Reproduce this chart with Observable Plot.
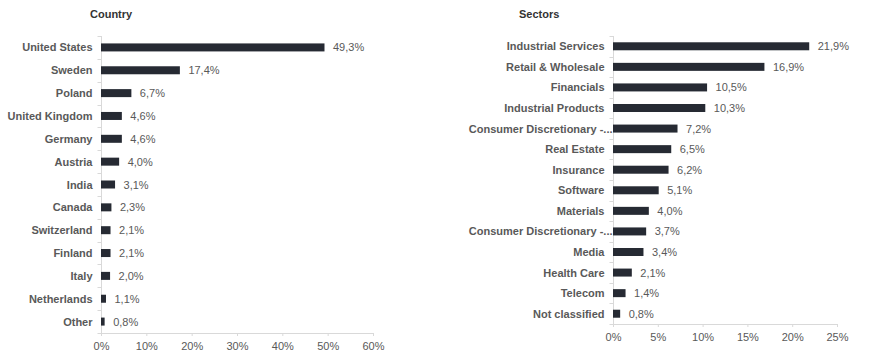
<!DOCTYPE html>
<html>
<head>
<meta charset="utf-8">
<script src="https://cdn.jsdelivr.net/npm/d3@7"></script>
<script src="https://cdn.jsdelivr.net/npm/@observablehq/plot@0.6"></script>
<style>
  html, body { margin: 0; padding: 0; background: #fff; }
  #wrap { position: relative; width: 872px; height: 353px; overflow: hidden; font-family: "Liberation Sans", Arial, sans-serif; }
  .panel { position: absolute; top: 0; }
  .title { position: absolute; font-size: 11px; font-weight: bold; color: #333; line-height: 14px; }
</style>
</head>
<body>
<div id="wrap">
  <div class="title" style="left:90px; top:7px;">Country</div>
  <div class="title" style="left:519px; top:7px;">Sectors</div>
  <div class="panel" id="left" style="left:0px;"></div>
  <div class="panel" id="right" style="left:440px;"></div>
</div>
<script>
const countries = ["United States","Sweden","Poland","United Kingdom","Germany","Austria","India","Canada","Switzerland","Finland","Italy","Netherlands","Other"];
const countryValues = [49.3,17.4,6.7,4.6,4.6,4.0,3.1,2.3,2.1,2.1,2.0,1.1,0.8];
const countryTicks = [0,10,20,30,40,50,60];

const sectors = ["Industrial Services","Retail & Wholesale","Financials","Industrial Products","Consumer Discretionary -...","Real Estate","Insurance","Software","Materials","Consumer Discretionary -...","Media","Health Care","Telecom","Not classified"];
const sectorValues = [21.9,16.9,10.5,10.3,7.2,6.5,6.2,5.1,4.0,3.7,3.4,2.1,1.4,0.8];
const sectorTicks = [0,5,10,15,20,25];

function chart({labels, values, ticks, width, height, marginLeft, marginRight, marginTop, marginBottom, barHeight}) {
  const n = labels.length;
  const data = labels.map((l, i) => ({i, label: l, value: values[i]}));
  const step = (height - marginTop - marginBottom) / n;
  const inset = (step - barHeight) / 2;
  const idx = d3.range(n);
  const full = idx.filter(i => !labels[i].endsWith("..."));
  const cut = idx.filter(i => labels[i].endsWith("..."));
  const frameLines = (index, scales, vals, dims) => {
    const g = d3.create("svg:g").attr("stroke", "#d9d9d9").attr("fill", "none").attr("stroke-width", 1);
    const x0 = Math.round(scales.x(0)) + 0.5;
    const top = dims.marginTop;
    const bottom = dims.height - dims.marginBottom;
    const right = dims.width - dims.marginRight;
    const st = (scales.y(1) - scales.y(0));
    g.append("line").attr("x1", x0).attr("x2", x0).attr("y1", top).attr("y2", bottom + 0.5);
    g.append("line").attr("x1", x0).attr("x2", right).attr("y1", Math.round(bottom) + 0.5).attr("y2", Math.round(bottom) + 0.5);
    for (let k = 0; k <= n; k++) {
      const y = Math.round(scales.y(0) + k * st) + 0.5;
      g.append("line").attr("x1", x0 - 4).attr("x2", x0).attr("y1", y).attr("y2", y);
    }
    return g.node();
  };
  const marks = [
    frameLines,
    Plot.barX(data, {x: "value", y: "i", fill: "#262a33", insetTop: inset, insetBottom: inset}),
    Plot.text(data, {x: "value", y: "i", text: d => d.value.toFixed(1).replace(".", ",") + "%", textAnchor: "start", dx: 8, fill: "#595959", fontSize: 11}),
    Plot.axisY({ticks: full, tickSize: 0, tickPadding: 9, tickFormat: i => labels[i], fontWeight: "bold", fill: "#595959", label: null}),
    Plot.axisX({ticks, tickFormat: d => d + "%", tickSize: 3, tickPadding: 6, stroke: "#d9d9d9", fill: "#595959", label: null})
  ];
  if (cut.length) marks.push(Plot.axisY({ticks: cut, tickSize: 0, tickPadding: 1, tickFormat: i => labels[i], fontWeight: "bold", fill: "#595959", label: null}));
  return Plot.plot({
    width, height, marginLeft, marginRight, marginTop, marginBottom,
    style: {fontFamily: "'Liberation Sans', Arial, sans-serif", fontSize: "11px", color: "#595959", background: "transparent", overflow: "visible"},
    x: {domain: [ticks[0], ticks[ticks.length - 1]], label: null},
    y: {domain: idx, padding: 0, round: false, label: null},
    marks
  });
}

document.getElementById("left").appendChild(chart({
  labels: countries, values: countryValues, ticks: countryTicks,
  width: 400, height: 353, marginLeft: 101, marginRight: 27, marginTop: 36, marginBottom: 20, barHeight: 8
}));
document.getElementById("right").appendChild(chart({
  labels: sectors, values: sectorValues, ticks: sectorTicks,
  width: 432, height: 353, marginLeft: 173, marginRight: 35, marginTop: 36, marginBottom: 29, barHeight: 8
}));
</script>
</body>
</html>
